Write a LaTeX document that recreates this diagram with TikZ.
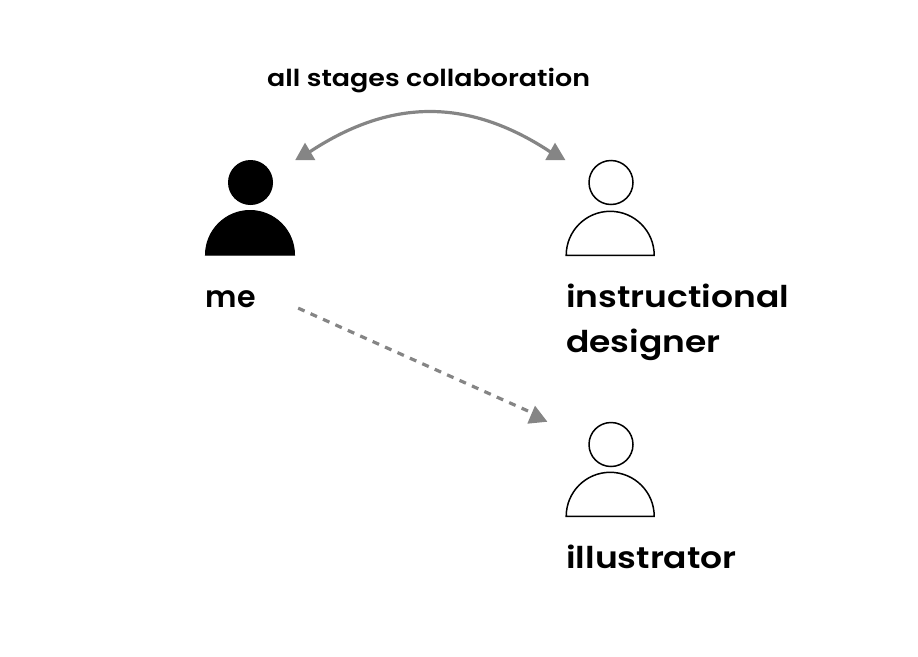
\documentclass[tikz,border=0pt]{standalone}
\usepackage{fontspec}
\setmainfont{Poppins}[UprightFont=* Medium,BoldFont=* SemiBold]
\definecolor{arrowgrey}{HTML}{858585}
\tikzset{
  x=1pt,y=-1pt,
  lbl/.style={anchor=base west,inner sep=0pt,xscale=1.15,font=\fontsize{30}{34}\selectfont\bfseries,align=left},
  toplbl/.style={anchor=base west,inner sep=0pt,xscale=1.15,font=\fontsize{23.4}{27}\selectfont\bfseries},
  tip/.style={fill=arrowgrey,draw=none},
  conn/.style={draw=arrowgrey,line width=3.2pt},
  personfill/.style={fill=black,draw=black,line width=1pt},
  personline/.style={fill=white,draw=black,line width=1.5pt},
}
\begin{document}
\begin{tikzpicture}
\useasboundingbox (0,0) rectangle (918,656);
% persons
\draw[personfill] (250.5,182.5) circle[radius=22];
\draw[personfill] (205.5,255) arc[start angle=180,end angle=360,radius=44.5] -- cycle;
\draw[personline] (611,182.5) circle[radius=22];
\draw[personline] (566.2,255.3) arc[start angle=180,end angle=360,radius=44] -- cycle;
\draw[personline] (611,444.5) circle[radius=22];
\draw[personline] (566.2,516.3) arc[start angle=180,end angle=360,radius=44] -- cycle;
% labels
\node[toplbl] (top) at (267,86.5) {all stages collaboration};
\node[lbl,xscale=0.87] (me) at (205.5,307) {me};
\node[lbl] (id) at (566,307) {instructional};
\node[lbl] (de) at (566,352) {designer};
\node[lbl] (il) at (566,568) {illustrator};
% connector ends
\coordinate (a1) at (305,155);
\coordinate (a2) at (555,155);
\coordinate (d1) at (294.5,306.5);
\coordinate (d2) at (528,411);
% connectors
\draw[conn] (a1) .. controls (390,97) and (470,97) .. (a2);
\draw[conn,dash pattern=on 7pt off 6.6pt] (d2) -- (d1);
% tips
\fill[tip] (305,142.7) -- (315.3,160) -- (295.3,160) -- cycle;
\fill[tip] (555,142.7) -- (565.3,160) -- (545.3,160) -- cycle;
\fill[tip] (535,405.7) -- (547.3,421.7) -- (527.3,423.7) -- cycle;
\end{tikzpicture}
\end{document}
